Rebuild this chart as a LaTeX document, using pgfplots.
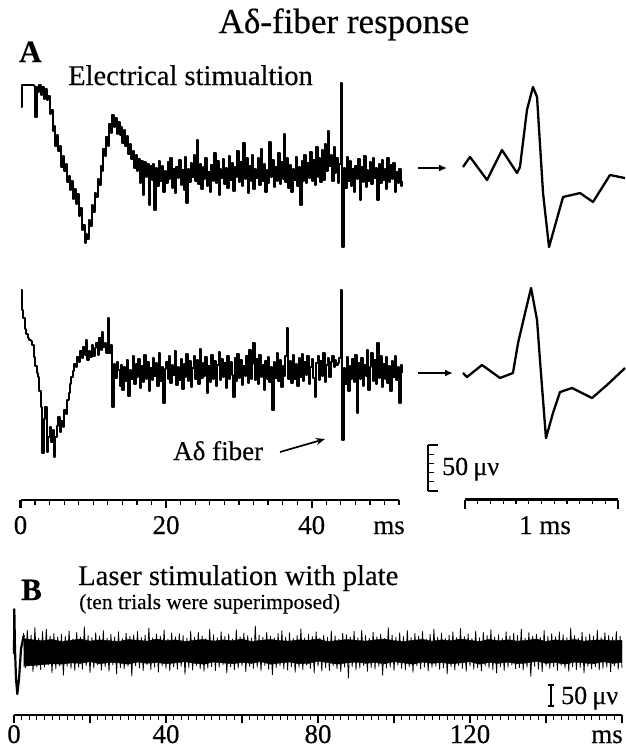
\documentclass[border=0pt]{standalone}
\usepackage{fontspec}
\setmainfont{Liberation Serif}[FakeBold=0.3]
\usepackage{pgfplots}
\pgfplotsset{compat=1.18}
\usepackage{pgfplotstable}
\usetikzlibrary{arrows.meta}
\newcommand{\fs}[1]{\fontsize{#1}{#1}\selectfont}

% Trace A1 (electrical stimulation), microvolts, one sample every 0.2 ms from 0 ms
\pgfplotstableread[row sep=\\]{v\\
74\\98\\98\\98\\98\\98\\98\\98\\98\\97\\63\\96\\90\\
98\\87\\96\\83\\94\\81\\86\\66\\71\\48\\53\\32\\44\\26\\31\\9\\21\\4\\12\\-8\\
-1\\-16\\-7\\-26\\-15\\-32\\-21\\-45\\-36\\-60\\-54\\-74\\-64\\-70\\-49\\-55\\-33\\-40\\-20\\-24\\
-4\\-11\\10\\4\\28\\21\\41\\32\\55\\46\\65\\52\\62\\45\\58\\43\\52\\35\\49\\32\\
42\\23\\34\\17\\26\\8\\22\\4\\17\\-9\\15\\-22\\14\\-2\\12\\-33\\10\\
-5\\12\\-38\\8\\-12\\15\\-6\\10\\-18\\4\\
-9\\14\\-4\\18\\-14\\6\\-20\\9\\-3\\16\\
-11\\5\\-16\\20\\-30\\7\\-8\\13\\-2\\22\\
-6\\38\\-10\\12\\-15\\9\\-4\\19\\-12\\3\\
-18\\11\\-7\\24\\-9\\15\\-22\\6\\-3\\17\\
-10\\8\\-14\\21\\-5\\13\\-17\\9\\-2\\26\\
-8\\14\\-12\\35\\-4\\18\\-20\\10\\-6\\22\\
-15\\7\\-3\\19\\-11\\28\\-7\\12\\-18\\5\\
-9\\36\\-2\\16\\-13\\9\\-6\\24\\-10\\14\\
-4\\45\\-8\\18\\-14\\11\\-19\\7\\-5\\20\\
-12\\9\\-33\\15\\-6\\22\\-9\\13\\-3\\25\\
-7\\16\\-11\\30\\-2\\19\\-8\\27\\-5\\34\\
4\\48\\10\\22\\-6\\30\\2\\18\\-9\\12\\
100\\-78\\8\\-14\\20\\-7\\15\\-12\\6\\-18\\
10\\-4\\17\\-27\\9\\-8\\21\\-13\\5\\-6\\
14\\-10\\19\\-3\\8\\-27\\12\\-9\\16\\-5\\
7\\-15\\18\\-8\\11\\-4\\13\\-19\\3\\-9\\
6\\-12\\-7\\
}\Aone

% Trace A2, microvolts, one sample every 0.2 ms from 0 ms
\pgfplotstableread[row sep=\\]{v\\
90\\68\\60\\48\\42\\38\\36\\35\\30\\17\\8\\0\\-4\\-20\\-37\\-87\\-50\\-37\\-86\\-70\\
-59\\-75\\-62\\-91\\-70\\-58\\-48\\-64\\-52\\-59\\-40\\-45\\-29\\-22\\-12\\-4\\2\\10\\6\\17\\
12\\24\\16\\28\\20\\36\\14\\24\\17\\30\\18\\27\\33\\20\\38\\25\\45\\28\\33\\22\\
60\\22\\30\\-37\\10\\-5\\12\\3\\
-14\\9\\
-18\\6\\-9\\14\\-25\\3\\-7\\18\\-12\\10\\
-4\\15\\-16\\8\\-10\\20\\-6\\12\\-20\\5\\
-8\\16\\-3\\11\\-14\\22\\-9\\7\\-33\\4\\
12\\-6\\18\\-11\\9\\-2\\24\\-13\\6\\-8\\
15\\-17\\10\\-4\\21\\-9\\13\\-15\\5\\19\\
-7\\14\\-12\\26\\-5\\11\\-3\\17\\-22\\8\\
-10\\20\\-6\\13\\-14\\9\\23\\-8\\15\\-4\\
11\\-16\\18\\-7\\12\\-2\\-26\\16\\-9\\21\\
-5\\14\\-13\\8\\-3\\19\\-11\\25\\-6\\10\\
33\\-8\\15\\-12\\20\\-4\\9\\-18\\13\\-6\\
17\\-10\\6\\-40\\12\\-5\\22\\-9\\14\\-15\\
8\\-3\\18\\49\\-7\\13\\-11\\20\\-6\\10\\
-14\\16\\-4\\21\\-9\\12\\-2\\18\\-12\\7\\
15\\-5\\-26\\11\\19\\-8\\13\\-3\\22\\-10\\
9\\16\\-4\\12\\18\\6\\14\\9\\11\\16\\
90\\-73\\5\\-12\\17\\-20\\8\\-6\\15\\-10\\
20\\-43\\11\\-7\\16\\-14\\9\\-3\\25\\-18\\
6\\22\\-9\\14\\-12\\33\\-5\\18\\-15\\10\\
-6\\17\\-11\\8\\-20\\13\\-4\\19\\-8\\6\\
-33\\9\\0\\
}\Atwo

% Trace B (laser, ten trials superimposed), microvolts, one sample every 0.5 ms from 2.5 ms
\pgfplotstableread[row sep=\\]{v\\
45\\-38\\52\\-30\\40\\-47\\58\\-35\\33\\-42\\49\\-36\\55\\-31\\38\\-50\\44\\-40\\36\\-33\\
42\\-55\\37\\-34\\50\\-39\\31\\-44\\47\\-36\\35\\-41\\60\\-33\\39\\-49\\34\\-38\\46\\-30\\
38\\-43\\51\\-35\\33\\-46\\42\\-31\\36\\-52\\48\\-37\\32\\-40\\45\\-34\\37\\-57\\41\\-33\\
49\\-38\\35\\-44\\40\\-31\\57\\-42\\34\\-36\\43\\-48\\38\\-33\\52\\-39\\31\\-45\\46\\-35\\
36\\-41\\44\\-34\\39\\-53\\33\\-37\\50\\-43\\35\\-32\\47\\-40\\38\\-46\\32\\-38\\55\\-35\\
41\\-44\\34\\-36\\48\\-31\\37\\-50\\43\\-35\\31\\-42\\53\\-38\\36\\-33\\45\\-47\\39\\-34\\
33\\-39\\62\\-36\\40\\-45\\35\\-32\\47\\-41\\38\\-54\\34\\-37\\44\\-33\\51\\-40\\36\\-43\\
46\\-35\\32\\-48\\39\\-36\\55\\-42\\34\\-31\\42\\-39\\37\\-50\\48\\-34\\33\\-45\\40\\-37\\
35\\-44\\50\\-33\\38\\-40\\31\\-47\\45\\-36\\41\\-62\\36\\-35\\49\\-43\\34\\-38\\52\\-32\\
39\\-46\\33\\-37\\47\\-41\\36\\-34\\43\\-55\\32\\-38\\58\\-36\\40\\-44\\35\\-31\\46\\-39\\
37\\-42\\51\\-35\\34\\-48\\44\\-33\\38\\-40\\49\\-36\\31\\-45\\42\\-37\\54\\-34\\36\\-41\\
45\\-38\\33\\-52\\40\\-35\\48\\-43\\35\\-32\\56\\-39\\37\\-46\\43\\-34\\32\\-41\\50\\-37\\
34\\-45\\47\\-33\\39\\-38\\53\\-42\\36\\-50\\41\\-35\\32\\-44\\48\\-36\\38\\-31\\45\\-40\\
40\\-37\\55\\-43\\33\\-36\\46\\-58\\38\\-34\\42\\-41\\35\\-47\\51\\-33\\37\\-39\\44\\-35\\
36\\-44\\48\\-32\\41\\-38\\34\\-46\\57\\-35\\39\\-42\\33\\-37\\47\\-50\\36\\-34\\43\\-40\\
38\\-35\\52\\-43\\34\\-39\\46\\-36\\40\\-47\\35\\-33\\49\\-41\\37\\-38\\
}\Bnoise

% dense core of the ten superimposed trials (upper edge, then lower edge back)
\pgfplotstableread[row sep=\\]{t v\\
2.5 32\\5 29\\7.5 27\\10 30\\12.5 25\\15 28\\17.5 31\\20 26\\22.5 29\\25 27\\
27.5 25\\30 30\\32.5 28\\35 26\\37.5 31\\40 27\\42.5 29\\45 25\\47.5 28\\50 30\\
52.5 26\\55 29\\57.5 27\\60 31\\62.5 25\\65 28\\67.5 30\\70 27\\72.5 26\\75 29\\
77.5 28\\80 31\\82.5 25\\85 27\\87.5 30\\90 28\\92.5 26\\95 29\\97.5 31\\100 27\\
102.5 25\\105 28\\107.5 30\\110 26\\112.5 29\\115 27\\117.5 31\\120 28\\122.5 25\\125 30\\
127.5 27\\130 29\\132.5 26\\135 28\\137.5 31\\140 25\\142.5 29\\145 27\\147.5 30\\150 26\\
152.5 28\\155 29\\157.5 27\\160 28\\
160 -25\\157.5 -27\\155 -23\\152.5 -28\\150 -26\\147.5 -24\\145 -29\\142.5 -25\\140 -27\\137.5 -22\\
135 -26\\132.5 -28\\130 -24\\127.5 -27\\125 -25\\122.5 -29\\120 -23\\117.5 -26\\115 -28\\112.5 -25\\
110 -27\\107.5 -24\\105 -29\\102.5 -26\\100 -23\\97.5 -28\\95 -25\\92.5 -27\\90 -24\\87.5 -26\\
85 -29\\82.5 -25\\80 -22\\77.5 -27\\75 -28\\72.5 -24\\70 -26\\67.5 -29\\65 -23\\62.5 -27\\
60 -25\\57.5 -28\\55 -26\\52.5 -24\\50 -29\\47.5 -27\\45 -23\\42.5 -26\\40 -28\\37.5 -25\\
35 -27\\32.5 -24\\30 -29\\27.5 -26\\25 -25\\22.5 -28\\20 -23\\17.5 -27\\15 -26\\12.5 -29\\
10 -28\\7.5 -30\\5 -32\\2.5 -34\\
}\Bcore

\begin{document}
\begin{tikzpicture}
\path[use as bounding box] (0,0) rectangle (625pt,-749pt);

% ---------- traces and texts, placed in a 625 x 749 frame ----------
\begin{axis}[at={(0pt,0pt)}, anchor=north west, scale only axis,
  width=625pt, height=749pt, xmin=0, xmax=625, ymin=0, ymax=749,
  y dir=reverse, hide axis, clip=false]

% A, first row: 20.5 + 7.28 per ms, baseline 175, 0.92 per microvolt
\addplot[black, const plot, line width=2pt, line join=round] table[x index=0, y index=0, x expr={20.5+7.28*(0.2*\coordindex)}, y expr={175-0.92*\thisrowno{0}}] {\Aone};
% A, second row
\addplot[black, const plot, line width=2pt, line join=round] table[x index=0, y index=0, x expr={20.5+7.28*(0.2*\coordindex)}, y expr={373-0.92*\thisrowno{0}}] {\Atwo};

% expanded waveforms (1 ms = 127.5)
\addplot[black, line width=2.3pt, line join=round] table[row sep=\\, x expr={465+127.5*\thisrow{t}}, y expr={175-0.92*\thisrow{v}}] {t v\\
-0.016 8.7\\0.039 19.6\\0.173 -5.4\\0.290 27.2\\0.408 2.2\\0.431 8.7\\0.486 70.7\\0.533 95.7\\0.565 84.8\\
0.612 -19.6\\0.659 -78.3\\0.690 -63.0\\0.769 -23.9\\0.902 -19.6\\1.004 -29.3\\1.137 0\\1.255 -3.3\\};
\addplot[black, line width=2.3pt, line join=round] table[row sep=\\, x expr={465+127.5*\thisrow{t}}, y expr={373-0.92*\thisrow{v}}] {t v\\
-0.016 0\\0.016 -4.3\\0.133 8.7\\0.275 -5.4\\0.376 0\\0.416 32.6\\0.471 65.2\\0.518 92.4\\0.565 57.6\\
0.588 14.1\\0.635 -70.7\\0.690 -43.5\\0.745 -20.7\\0.839 -16.3\\0.996 -27.2\\1.114 -13.0\\1.255 5.4\\};

% B: 14 + 3.8 per ms, baseline 652, 0.42 per microvolt
\addplot[black, fill=black, line width=0.4pt] table[x expr={14+3.8*\thisrow{t}}, y expr={652-0.42*\thisrow{v}}] {\Bcore};
\addplot[black, line width=0.8pt, line join=round] table[x index=0, y index=0, x expr={14+3.8*(2.5+0.5*\coordindex)}, y expr={652-0.42*\thisrowno{0}}] {\Bnoise};
\addplot[black, line width=2.2pt, line join=round] table[row sep=\\, x expr={14+3.8*\thisrow{t}}, y expr={652-0.42*\thisrow{v}}] {t v\\
0 -5\\0.08 102\\0.26 7\\0.53 -64\\0.87 -100\\1.32 -64\\1.84 7\\2.37 31\\2.6 40\\};

% arrows
\draw[line width=1.6pt, -{Latex[length=8pt,width=7pt]}] (axis cs:418,168) -- (axis cs:447,168);
\draw[line width=1.6pt, -{Latex[length=8pt,width=7pt]}] (axis cs:418,373) -- (axis cs:453,373);
\draw[line width=1.7pt, -{Stealth[length=9pt,width=7pt]}] (axis cs:280,452) -- (axis cs:325,439);

% texts
\node[anchor=base, font=\fs{35}, inner sep=0pt] at (axis cs:344,33) {Aδ-fiber response};
\node[anchor=base west, font=\fs{31}\bfseries, inner sep=0pt] at (axis cs:19,62) {A};
\node[anchor=base west, font=\fs{28.5}, inner sep=0pt] at (axis cs:68,85) {Electrical stimualtion};
\node[anchor=base west, font=\fs{27}, inner sep=0pt] at (axis cs:173,460) {Aδ fiber};
\node[anchor=base west, font=\fs{26}, inner sep=0pt] at (axis cs:442,475) {50\hspace{0.2em}μν};
\node[anchor=base, font=\fs{27}, inner sep=0pt] at (axis cs:20.5,534) {0};
\node[anchor=base, font=\fs{27}, inner sep=0pt] at (axis cs:166.1,534) {20};
\node[anchor=base, font=\fs{27}, inner sep=0pt] at (axis cs:311.7,534) {40};
\node[anchor=base, font=\fs{27}, inner sep=0pt] at (axis cs:389,534) {ms};
\node[anchor=base, font=\fs{27}, inner sep=0pt] at (axis cs:545,534) {1 ms};
\node[anchor=base west, font=\fs{31}\bfseries, inner sep=0pt] at (axis cs:21,600) {B};
\node[anchor=base west, font=\fs{28.6}, inner sep=0pt] at (axis cs:78,585) {Laser stimulation with plate};
\node[anchor=base west, font=\fs{21.5}, inner sep=0pt] at (axis cs:79,609) {(ten trials were superimposed)};
\node[anchor=base west, font=\fs{26}, inner sep=0pt] at (axis cs:561,704) {50\hspace{0.2em}μν};
\node[anchor=base, font=\fs{27}, inner sep=0pt] at (axis cs:14,743) {0};
\node[anchor=base, font=\fs{27}, inner sep=0pt] at (axis cs:166,743) {40};
\node[anchor=base, font=\fs{27}, inner sep=0pt] at (axis cs:318,743) {80};
\node[anchor=base, font=\fs{27}, inner sep=0pt] at (axis cs:470,743) {120};
\node[anchor=base, font=\fs{27}, inner sep=0pt] at (axis cs:607,743) {ms};
\end{axis}

% ---------- time rulers ----------
\begin{axis}[at={(20.5pt,-500pt)}, anchor=south west, scale only axis,
  width=378.56pt, height=1pt, xmin=0, xmax=52, ymin=0, ymax=1,
  axis x line*=bottom, axis y line=none, xtick={0,20,40}, minor xtick={2,4,...,52},
  xticklabels={}, tick align=outside, major tick length=8pt, minor tick length=4.5pt,
  axis line style={line width=2.2pt}, major tick style={line width=2.4pt, black},
  minor tick style={line width=1.2pt, black}]
\addplot[draw=none] coordinates {(0,0)};
\end{axis}

\begin{axis}[at={(465pt,-499.5pt)}, anchor=south west, scale only axis,
  width=153pt, height=1pt, xmin=0, xmax=1.2, ymin=0, ymax=1,
  axis x line*=bottom, axis y line=none, xtick={0,1.2}, minor xtick={0.1,0.2,...,1.1},
  xticklabels={}, tick align=outside, major tick length=9pt, minor tick length=4.5pt,
  axis line style={line width=2.2pt}, major tick style={line width=2.4pt, black},
  minor tick style={line width=1.2pt, black}]
\addplot[draw=none] coordinates {(0,0)};
\end{axis}

\begin{axis}[at={(14pt,-715pt)}, anchor=south west, scale only axis,
  width=608pt, height=1pt, xmin=0, xmax=160, ymin=0, ymax=1,
  axis x line*=bottom, axis y line=none, xtick={0,20,...,160}, minor xtick={2,4,...,158},
  xticklabels={}, tick align=outside, major tick length=8pt, minor tick length=4.5pt,
  axis line style={line width=1.6pt}, major tick style={line width=1.6pt, black},
  minor tick style={line width=1pt, black}]
\addplot[draw=none] coordinates {(0,0)};
\end{axis}

% ---------- 50 microvolt scale bars ----------
\begin{axis}[at={(427.5pt,-491pt)}, anchor=south west, scale only axis,
  width=12pt, height=46pt, xmin=0, xmax=1, ymin=0, ymax=50,
  axis y line*=left, axis x line=none, ytick={0,50}, minor ytick={10,20,30,40},
  yticklabels={}, xtick=\empty, tick align=inside, major tick length=10pt, minor tick length=6pt,
  axis line style={line width=2pt}, major tick style={line width=2pt, black},
  minor tick style={line width=1.3pt, black}]
\addplot[draw=none] coordinates {(0,0)};
\end{axis}

\begin{axis}[at={(551pt,-706pt)}, anchor=south west, scale only axis,
  width=6pt, height=21pt, xmin=0, xmax=1, ymin=0, ymax=50,
  axis y line*=left, axis x line=none, ytick={0,50}, yticklabels={}, xtick=\empty,
  tick align=center, major tick length=6pt,
  axis line style={line width=1.3pt}, major tick style={line width=1.3pt, black}]
\addplot[draw=none] coordinates {(0,0)};
\end{axis}
\end{tikzpicture}
\end{document}
